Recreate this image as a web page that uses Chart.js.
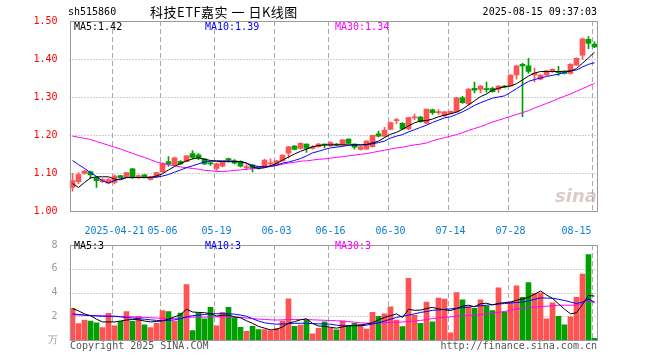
<!DOCTYPE html>
<html><head><meta charset="utf-8">
<script src="https://cdn.jsdelivr.net/npm/chart.js@4.4.1/dist/chart.umd.min.js"></script>
<style>
body{margin:0;background:#fff;width:660px;height:360px;overflow:hidden;position:relative;font-family:"DejaVu Sans Mono",monospace;font-size:10px;color:#000}
canvas{position:absolute;left:0}
#c1{top:0}
#c2{top:235px}
.t{position:absolute;white-space:pre;line-height:12px}
</style></head><body>
<canvas id="c1" width="660" height="235"></canvas>
<canvas id="c2" width="660" height="125"></canvas>
<div class="t" style="left:68px;top:6px">sh515860</div>
<div class="t" style="left:150px;top:3px;font-family:'Noto Sans CJK SC';font-size:13px;line-height:18px;letter-spacing:0.5px">科技ETF嘉实 一 日K线图</div>
<div class="t" style="right:63px;top:6px">2025-08-15 09:37:03</div>
<div class="t" style="left:74px;top:21px">MA5:1.42</div>
<div class="t" style="left:205px;top:21px;color:#0000ff">MA10:1.39</div>
<div class="t" style="left:335px;top:21px;color:#ff00ff">MA30:1.34</div>
<div class="t" style="left:74px;top:240px">MA5:3</div>
<div class="t" style="left:205px;top:240px;color:#0000ff">MA10:3</div>
<div class="t" style="left:335px;top:240px;color:#ff00ff">MA30:3</div>
<div class="t" style="left:70px;top:340px;color:#555">Copyright 2025 SINA.COM</div>
<div class="t" style="right:63px;top:340px;color:#555">http://finance.sina.com.cn</div>
<div class="t" style="left:555px;top:185px;font-family:'DejaVu Sans';font-size:18px;line-height:22px;font-style:italic;font-weight:bold;color:rgba(190,160,160,0.55)">sina</div>
<script>
const dates = ['2025-04-10','2025-04-11','2025-04-14','2025-04-15','2025-04-16','2025-04-17','2025-04-18','2025-04-21','2025-04-22','2025-04-23','2025-04-24','2025-04-25','2025-04-28','2025-04-29','2025-04-30','2025-05-06','2025-05-07','2025-05-08','2025-05-09','2025-05-12','2025-05-13','2025-05-14','2025-05-15','2025-05-16','2025-05-19','2025-05-20','2025-05-21','2025-05-22','2025-05-23','2025-05-26','2025-05-27','2025-05-28','2025-05-29','2025-05-30','2025-06-03','2025-06-04','2025-06-05','2025-06-06','2025-06-09','2025-06-10','2025-06-11','2025-06-12','2025-06-13','2025-06-16','2025-06-17','2025-06-18','2025-06-19','2025-06-20','2025-06-23','2025-06-24','2025-06-25','2025-06-26','2025-06-27','2025-06-30','2025-07-01','2025-07-02','2025-07-03','2025-07-04','2025-07-07','2025-07-08','2025-07-09','2025-07-10','2025-07-11','2025-07-14','2025-07-15','2025-07-16','2025-07-17','2025-07-18','2025-07-21','2025-07-22','2025-07-23','2025-07-24','2025-07-25','2025-07-28','2025-07-29','2025-07-30','2025-07-31','2025-08-01','2025-08-04','2025-08-05','2025-08-06','2025-08-07','2025-08-08','2025-08-11','2025-08-12','2025-08-13','2025-08-14','2025-08-15'];

const tickDates = ['2025-04-21','2025-05-06','2025-05-19','2025-06-03','2025-06-16','2025-06-30','2025-07-14','2025-07-28','2025-08-15'];
const tickTexts = ['2025-04-21','05-06','05-19','06-03','06-16','06-30','07-14','07-28','08-15      '];

const priceTicks = [1.00, 1.10, 1.20, 1.30, 1.40, 1.50];
const volTicks = [0, 2, 4, 6, 8];

const opens = [1.062,1.077,1.099,1.103,1.088,1.077,1.073,1.075,1.093,1.090,
1.111,1.088,1.095,1.083,1.090,1.103,1.130,1.121,1.131,1.130,
1.151,1.148,1.137,1.126,1.112,1.118,1.138,1.132,1.130,1.114,
1.121,1.116,1.117,1.124,1.122,1.132,1.152,1.171,1.165,1.176,
1.165,1.169,1.176,1.171,1.176,1.174,1.189,1.176,1.162,1.163,
1.169,1.203,1.197,1.215,1.238,1.231,1.216,1.245,1.247,1.231,
1.266,1.259,1.250,1.257,1.261,1.298,1.282,1.323,1.320,1.322,
1.323,1.320,1.329,1.329,1.358,1.386,1.382,1.358,1.347,1.358,
1.367,1.366,1.366,1.362,1.384,1.410,1.452,1.439];
const highs = [1.099,1.101,1.107,1.105,1.091,1.085,1.085,1.095,1.094,1.102,
1.112,1.095,1.096,1.091,1.102,1.127,1.143,1.142,1.133,1.146,
1.159,1.151,1.138,1.130,1.126,1.131,1.139,1.135,1.132,1.122,
1.123,1.118,1.136,1.137,1.134,1.148,1.170,1.173,1.180,1.177,
1.172,1.178,1.177,1.182,1.178,1.188,1.190,1.177,1.170,1.185,
1.200,1.210,1.220,1.234,1.244,1.233,1.247,1.255,1.249,1.268,
1.268,1.267,1.262,1.263,1.299,1.302,1.322,1.339,1.330,1.339,
1.326,1.330,1.331,1.359,1.383,1.389,1.402,1.376,1.359,1.370,
1.374,1.381,1.368,1.388,1.403,1.455,1.459,1.445];
const lows = [1.052,1.072,1.097,1.086,1.062,1.075,1.071,1.071,1.087,1.089,
1.086,1.086,1.087,1.081,1.089,1.101,1.117,1.119,1.122,1.129,
1.137,1.135,1.122,1.120,1.107,1.116,1.128,1.124,1.116,1.108,
1.103,1.110,1.115,1.120,1.120,1.131,1.139,1.161,1.163,1.154,
1.163,1.168,1.166,1.170,1.171,1.173,1.177,1.163,1.160,1.162,
1.168,1.195,1.195,1.214,1.230,1.215,1.214,1.240,1.233,1.230,
1.254,1.254,1.249,1.255,1.260,1.283,1.280,1.311,1.311,1.313,
1.313,1.312,1.324,1.328,1.347,1.248,1.362,1.340,1.345,1.356,
1.365,1.357,1.360,1.360,1.383,1.399,1.427,1.430];
const closes = [1.080,1.096,1.105,1.095,1.080,1.083,1.083,1.092,1.088,1.101,
1.088,1.093,1.089,1.090,1.101,1.125,1.124,1.140,1.124,1.145,
1.141,1.140,1.124,1.124,1.124,1.130,1.135,1.126,1.118,1.116,
1.112,1.113,1.134,1.126,1.132,1.147,1.169,1.162,1.178,1.165,
1.169,1.176,1.173,1.180,1.173,1.187,1.178,1.168,1.169,1.184,
1.199,1.197,1.213,1.233,1.240,1.216,1.246,1.247,1.235,1.268,
1.259,1.261,1.261,1.262,1.298,1.285,1.321,1.318,1.329,1.319,
1.314,1.329,1.326,1.358,1.382,1.382,1.367,1.362,1.358,1.369,
1.373,1.364,1.362,1.386,1.402,1.453,1.441,1.432];

const ma5 = [1.072,1.062,1.075,1.087,1.090,1.090,1.090,1.084,1.082,1.088,
1.088,1.088,1.088,1.088,1.092,1.098,1.108,1.117,1.125,1.132,
1.137,1.140,1.136,1.133,1.131,1.130,1.130,1.130,1.130,1.126,
1.116,1.112,1.114,1.119,1.125,1.134,1.142,1.150,1.157,1.163,
1.169,1.172,1.174,1.174,1.174,1.174,1.174,1.174,1.174,1.175,
1.179,1.184,1.193,1.202,1.207,1.215,1.224,1.232,1.237,1.238,
1.242,1.248,1.252,1.256,1.260,1.268,1.279,1.290,1.301,1.308,
1.318,1.323,1.327,1.329,1.335,1.345,1.355,1.363,1.367,1.367,
1.367,1.367,1.368,1.368,1.375,1.389,1.403,1.418];
const ma10 = [1.133,1.122,1.112,1.101,1.091,1.079,1.074,1.080,1.085,1.088,
1.088,1.088,1.088,1.089,1.089,1.092,1.096,1.102,1.108,1.114,
1.119,1.124,1.129,1.131,1.132,1.132,1.132,1.131,1.130,1.126,
1.120,1.117,1.117,1.118,1.120,1.126,1.129,1.133,1.138,1.145,
1.153,1.157,1.162,1.166,1.168,1.170,1.173,1.174,1.174,1.174,
1.177,1.180,1.184,1.192,1.197,1.201,1.208,1.214,1.220,1.226,
1.233,1.239,1.245,1.248,1.254,1.261,1.269,1.278,1.285,1.291,
1.297,1.300,1.303,1.312,1.322,1.332,1.341,1.346,1.350,1.354,
1.357,1.360,1.365,1.369,1.371,1.379,1.386,1.390];
const ma30 = [1.197,1.194,1.191,1.188,1.183,1.178,1.173,1.168,1.163,1.157,
1.152,1.146,1.141,1.135,1.129,1.125,1.122,1.119,1.116,1.114,
1.112,1.110,1.107,1.106,1.104,1.104,1.105,1.107,1.108,1.110,
1.111,1.113,1.114,1.117,1.120,1.123,1.126,1.128,1.131,1.132,
1.134,1.136,1.137,1.139,1.141,1.143,1.145,1.147,1.149,1.151,
1.154,1.157,1.160,1.163,1.166,1.168,1.171,1.174,1.176,1.179,
1.185,1.189,1.193,1.197,1.201,1.206,1.212,1.217,1.222,1.228,
1.234,1.239,1.244,1.249,1.254,1.259,1.264,1.271,1.277,1.283,
1.289,1.296,1.302,1.308,1.315,1.322,1.329,1.336];

const volumes = [2.67,1.39,1.68,1.60,1.44,1.04,2.24,1.20,1.57,2.40,
1.57,2.00,1.28,1.04,1.41,2.48,2.40,1.60,2.27,4.67,
0.80,2.27,1.79,2.75,1.20,2.32,2.75,1.87,1.07,0.72,
1.15,0.88,0.88,0.80,0.99,1.60,3.47,1.15,1.25,1.73,
0.51,0.99,1.52,1.00,0.85,1.60,1.15,1.41,1.33,0.93,
2.32,2.00,2.21,2.80,1.68,1.12,5.20,2.08,1.41,3.20,
1.52,3.52,3.44,0.61,4.00,3.39,2.80,2.67,3.39,2.85,
2.48,4.40,2.37,3.17,4.56,3.60,4.83,3.92,3.97,1.79,
3.12,2.00,1.28,1.95,3.60,5.55,7.20,0.15];
const vma5 = [2.65,2.45,2.20,2.05,1.75,1.52,1.52,1.52,1.60,1.68,
1.73,1.70,1.60,1.52,1.56,1.62,1.75,1.95,2.13,2.59,
2.36,2.32,2.30,2.21,2.02,2.08,2.10,1.95,1.87,1.62,
1.40,1.15,1.00,0.85,0.90,1.10,1.42,1.55,1.70,1.79,
1.40,1.18,1.15,1.07,1.00,1.10,1.20,1.22,1.25,1.35,
1.45,1.70,1.90,2.05,2.20,1.90,2.59,2.50,2.52,2.65,
2.75,2.62,2.55,2.48,2.65,2.85,2.93,2.80,3.05,3.10,
2.95,3.08,3.15,3.20,3.35,3.45,3.60,3.85,4.13,3.80,
3.50,3.05,2.60,2.20,2.30,3.00,3.75,3.70];
const vma10 = [2.20,2.15,2.10,2.05,2.03,2.00,2.00,2.00,1.95,1.90,
1.85,1.80,1.75,1.70,1.65,1.62,1.65,1.70,1.80,1.95,
2.05,2.10,2.15,2.20,2.21,2.21,2.21,2.18,2.10,2.00,
1.80,1.60,1.45,1.38,1.33,1.35,1.38,1.41,1.41,1.41,
1.38,1.36,1.35,1.33,1.25,1.20,1.20,1.20,1.20,1.25,
1.35,1.45,1.60,1.75,1.90,2.00,2.10,2.20,2.32,2.40,
2.50,2.53,2.58,2.62,2.67,2.72,2.77,2.83,2.88,2.93,
2.98,3.03,3.07,3.12,3.16,3.20,3.30,3.42,3.55,3.53,
3.52,3.42,3.33,3.20,3.07,3.20,3.45,3.20];
const vma30 = [2.13,2.10,2.08,2.06,2.05,2.04,2.02,2.00,1.98,1.96,
1.95,1.93,1.90,1.88,1.85,1.82,1.79,1.82,1.86,1.90,
1.92,1.93,1.93,1.94,1.95,1.95,1.95,1.93,1.90,1.85,
1.80,1.76,1.73,1.70,1.68,1.70,1.72,1.73,1.73,1.72,
1.70,1.68,1.66,1.64,1.62,1.60,1.55,1.50,1.45,1.42,
1.42,1.44,1.46,1.48,1.50,1.52,1.55,1.60,1.65,1.72,
1.80,1.87,1.90,1.95,2.00,2.03,2.07,2.10,2.13,2.18,
2.25,2.32,2.40,2.50,2.60,2.67,2.72,2.77,2.82,2.85,
2.88,2.93,2.93,2.93,2.93,3.10,3.33,3.12];

const RED = '#ff5353', GREEN = '#00a000';
const candleColors = opens.map((o, i) => closes[i] >= o ? RED : GREEN);

function xTickLabel(value, index) {
  const j = tickDates.indexOf(dates[index]);
  return j >= 0 ? tickTexts[j] : '';
}

// grid lines (dashed verticals at the labelled dates, dotted horizontals at the value ticks)
const gridPlugin = {
  id: 'gridlines',
  beforeDatasetsDraw(chart, args, opts) {
    const { ctx, chartArea: a, scales } = chart;
    const x = scales.x, y = scales.y;
    ctx.save();
    ctx.lineWidth = 1;
    ctx.strokeStyle = '#a8a8a8';
    ctx.setLineDash([5, 3]);
    tickDates.forEach(d => {
      const i = dates.indexOf(d);
      const mid = (x.getPixelForValue(i) + x.getPixelForValue(i - 1)) / 2;
      const px = Math.round(mid) + 0.5;
      ctx.beginPath(); ctx.moveTo(px, a.top); ctx.lineTo(px, a.bottom); ctx.stroke();
    });
    ctx.strokeStyle = '#a0a0a0';
    ctx.setLineDash([1, 2]);
    opts.values.slice(1, -1).forEach(v => {
      const py = Math.round(y.getPixelForValue(v)) + 0.5;
      ctx.beginPath(); ctx.moveTo(a.left, py); ctx.lineTo(a.right, py); ctx.stroke();
    });
    ctx.restore();
  },
  afterDraw(chart) {
    const a = chart.chartArea, c = chart.ctx;
    c.save();
    c.strokeStyle = '#9a9a9a';
    c.lineWidth = 1;
    c.strokeRect(Math.round(a.left) + 0.5, Math.round(a.top) + 0.5, Math.round(a.right - a.left) - 1, Math.round(a.bottom - a.top));
    c.restore();
  }
};
const monoFont = { family: "'DejaVu Sans Mono', monospace", size: 10 };

new Chart(document.getElementById('c1'), {
  type: 'bar',
  data: {
    labels: dates,
    datasets: [
      { type: 'line', data: ma5, borderColor: '#000000', borderWidth: 1, pointRadius: 0, tension: 0, order: 0 },
      { type: 'line', data: ma10, borderColor: '#0000ff', borderWidth: 1, pointRadius: 0, tension: 0, order: 1 },
      { type: 'line', data: ma30, borderColor: '#ff00ff', borderWidth: 1, pointRadius: 0, tension: 0, order: 2 },
      { type: 'bar', data: opens.map((o, i) => [o, closes[i]]), backgroundColor: candleColors, barThickness: 5, minBarLength: 1, grouped: false, order: 3 },
      { type: 'bar', data: lows.map((l, i) => [l, highs[i]]), backgroundColor: candleColors, barThickness: 1, grouped: false, order: 4 }
    ]
  },
  options: {
    responsive: false, animation: false, devicePixelRatio: 1,
    layout: { padding: { left: 0, right: 62.5, top: 21, bottom: 0 } },
    plugins: { legend: { display: false }, tooltip: { enabled: false }, gridlines: { values: priceTicks } },
    scales: {
      x: {
        type: 'category', offset: true,
        grid: { display: false },
        border: { display: false },
        ticks: { autoSkip: false, maxRotation: 0, minRotation: 0, padding: 6, color: '#0a7fd6', font: monoFont, callback: xTickLabel },
        afterFit: s => { s.height = 24; }
      },
      y: {
        min: 1.0, max: 1.5,
        afterBuildTicks: s => { s.ticks = priceTicks.map(v => ({ value: v })); },
        grid: { display: false },
        border: { display: false },
        ticks: { padding: 4, color: '#ff0000', font: monoFont, callback: v => Number(v).toFixed(2) },
        afterFit: s => { s.width = 69.5; }
      }
    }
  },
  plugins: [gridPlugin]
});

new Chart(document.getElementById('c2'), {
  type: 'bar',
  data: {
    labels: dates,
    datasets: [
      { type: 'line', data: vma5, borderColor: '#000000', borderWidth: 1, pointRadius: 0, tension: 0, order: 0 },
      { type: 'line', data: vma10, borderColor: '#0000ff', borderWidth: 1, pointRadius: 0, tension: 0, order: 1 },
      { type: 'line', data: vma30, borderColor: '#ff00ff', borderWidth: 1, pointRadius: 0, tension: 0, order: 2 },
      { type: 'bar', data: volumes, backgroundColor: candleColors, barThickness: 5, grouped: false, order: 3 }
    ]
  },
  options: {
    responsive: false, animation: false, devicePixelRatio: 1,
    layout: { padding: { left: 0, right: 62.5, top: 5, bottom: 0 } },
    plugins: { legend: { display: false }, tooltip: { enabled: false }, gridlines: { values: volTicks } },
    scales: {
      x: {
        type: 'category', offset: true,
        grid: { display: false },
        border: { display: false },
        ticks: { display: false },
        afterFit: s => { s.height = 20; }
      },
      y: {
        min: 0, max: 8,
        afterBuildTicks: s => { s.ticks = volTicks.map(v => ({ value: v })); },
        grid: { display: false },
        border: { display: false },
        ticks: { padding: 4, color: '#999999', font: monoFont, callback: v => v === 0 ? '万' : String(v) },
        afterFit: s => { s.width = 69.5; }
      }
    }
  },
  plugins: [gridPlugin]
});
</script>
</body></html>
